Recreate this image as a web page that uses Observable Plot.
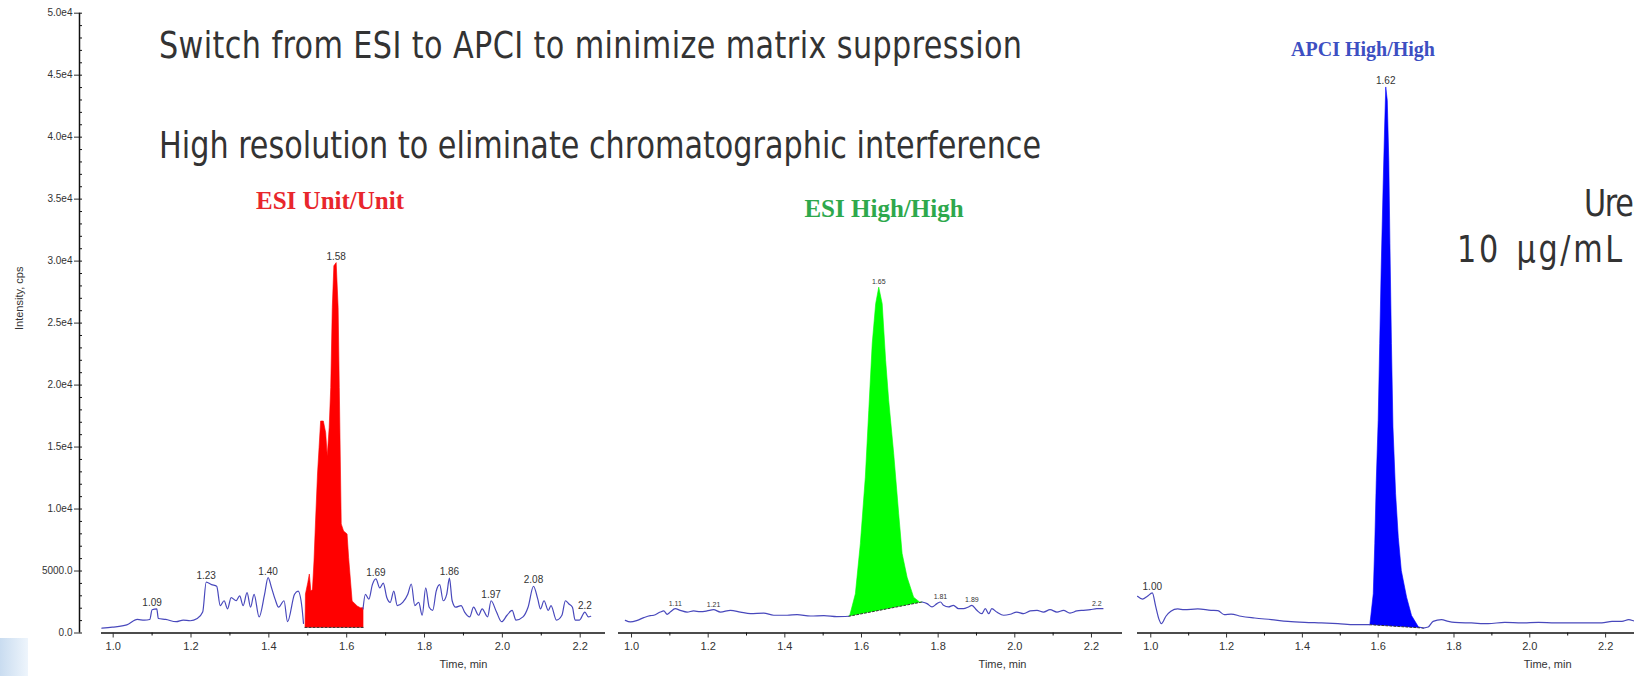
<!DOCTYPE html>
<html><head><meta charset="utf-8">
<script src="https://cdn.jsdelivr.net/npm/d3@7"></script>
<script src="https://cdn.jsdelivr.net/npm/@observablehq/plot@0.6"></script>
<style>
body{margin:0;background:#fff;overflow:hidden}
#wrap{position:relative;width:1634px;height:676px;overflow:hidden;font-family:"Liberation Sans",Arial,sans-serif}
#wrap svg{position:absolute;left:0;top:0;background:transparent !important;max-width:none !important;overflow:visible}
.note{position:absolute;white-space:nowrap;color:#333;font-family:"Liberation Sans Narrow","Arial Narrow","DejaVu Sans Condensed",sans-serif;line-height:1;font-size:38px;transform:scaleX(0.885);transform-origin:0 0}
.ttl{position:absolute;white-space:nowrap;font-family:"Liberation Serif","Times New Roman",serif;font-weight:bold;transform:translateX(-50%)}
#decor{position:absolute;left:0;top:638px;width:28px;height:38px;background:linear-gradient(to right,#c9dcf0,#eef5fc)}
</style></head><body><div id="wrap"><div id="decor"></div></div>
<script>
// ---------- data ----------
const yTickValues = [0, 5000, 10000, 15000, 20000, 25000, 30000, 35000, 40000, 45000, 50000];
const yTickLabels = ["0.0", "5000.0", "1.0e4", "1.5e4", "2.0e4", "2.5e4", "3.0e4", "3.5e4", "4.0e4", "4.5e4", "5.0e4"];
const yMinorTicks = [1000,2000,3000,4000,6000,7000,8000,9000,11000,12000,13000,14000,16000,17000,18000,19000,21000,22000,23000,24000,26000,27000,28000,29000,31000,32000,33000,34000,36000,37000,38000,39000,41000,42000,43000,44000,46000,47000,48000,49000];
const xTickValues = [1.0, 1.2, 1.4, 1.6, 1.8, 2.0, 2.2];
const xTickLabels = ["1.0", "1.2", "1.4", "1.6", "1.8", "2.0", "2.2"];
const xMinorTicks = [1.1, 1.3, 1.5, 1.7, 1.9, 2.1];

// Panel 1: ESI Unit/Unit
const esiUnitTime = [0.971,0.998,1.035,1.062,1.080,1.094,1.100,1.112,1.116,1.135,1.162,1.180,1.198,1.216,1.230,1.239,1.253,1.266,1.275,1.285,1.294,1.303,1.316,1.325,1.334,1.344,1.353,1.362,1.375,1.389,1.398,1.407,1.416,1.425,1.439,1.448,1.466,1.475,1.485,1.489,
  1.56,
  1.642,1.648,1.657,1.666,1.675,1.685,1.694,1.703,1.712,1.721,1.730,1.744,1.757,1.766,1.775,1.785,1.794,1.803,1.812,1.821,1.830,1.839,1.848,1.857,1.864,1.871,1.880,1.894,1.903,1.916,1.926,1.939,1.948,1.962,1.971,1.985,1.998,2.012,2.025,2.035,2.053,2.066,2.080,2.091,2.098,2.107,2.118,2.125,2.139,2.153,2.162,2.171,2.180,2.187,2.198,2.212,2.221,2.227];
const esiUnitIntensity = [390,468,650,1092,1040,1092,1872,1950,1170,1092,910,1040,988,1170,1690,4108,3900,3770,2210,2600,1950,2860,2600,2990,2210,3250,2080,3120,1300,3120,4472,3640,2730,2080,2600,910,3120,3380,2080,780,
  null,
  1950,3120,2730,3900,4368,3640,4030,2860,2470,3380,2210,2470,3120,3952,2210,2470,1430,3640,2080,1820,3380,3900,2600,3120,4420,2600,2080,2210,1690,1300,2080,1430,1950,1300,2600,1690,910,1430,1820,1040,1300,2080,3770,2730,1950,2600,1820,2210,1040,1430,2600,2340,2080,1040,1040,1690,1300,1350];
const esiUnitPeakTime = [1.493,1.494,1.500,1.504,1.508,1.512,1.516,1.520,1.525,1.529,1.533,1.540,1.546,1.550,1.555,1.559,1.563,1.567,1.573,1.578,1.581,1.586,1.592,1.601,1.605,1.614,1.627,1.635,1.642,1.642];
const esiUnitPeakIntensity = [450,3150,4060,4760,3390,3500,5810,9040,12830,14950,17100,17100,16160,14280,16570,19800,26250,29620,29880,26250,19800,8800,8230,7990,6080,2580,2180,2040,2040,450];
const esiUnitLabels = ["1.09","1.23","1.40","1.58","1.69","1.86","1.97","2.08","2.2"];
const esiUnitLabelTime = [1.10,1.239,1.398,1.573,1.675,1.864,1.971,2.080,2.212];
const esiUnitLabelIntensity = [1950,4108,4472,29880,4368,4420,2600,3770,1690];

// Panel 2: ESI High/High
const esiHighTime = [0.984,0.997,1.015,1.032,1.049,1.058,1.075,1.084,1.093,1.101,1.114,1.127,1.145,1.162,1.179,1.197,1.214,1.232,1.258,1.284,1.310,1.345,1.371,1.406,1.432,1.467,1.502,1.536,1.567,
  1.66,
  1.758,1.771,1.784,1.797,1.806,1.814,1.827,1.840,1.853,1.866,1.879,1.888,1.901,1.914,1.923,1.932,1.940,1.953,1.971,1.988,2.005,2.023,2.040,2.058,2.075,2.092,2.110,2.127,2.144,2.162,2.179,2.197,2.214,2.230];
const esiHighIntensity = [1020,890,1020,1240,1400,1430,1690,1780,1510,1690,1960,1830,1690,1780,1720,1780,1880,1690,1830,1690,1560,1610,1430,1430,1480,1370,1400,1320,1350,
  null,
  2500,2370,2100,2370,2500,2230,2100,2230,1960,1960,2100,2230,1830,1560,1960,1560,1960,1690,1430,1510,1690,1560,1780,1830,1690,1880,1690,1830,1610,1780,1830,1880,1960,1960];
const esiHighPeakTime = [1.567,1.570,1.584,1.597,1.610,1.619,1.628,1.637,1.645,1.654,1.663,1.671,1.684,1.697,1.706,1.719,1.736,1.752,1.758];
const esiHighPeakIntensity = [1350,1500,3160,7200,12570,17950,23360,26570,27900,26570,22000,18760,14480,9640,6410,4500,2890,2490,2500];
const esiHighLabels = ["1.11","1.21","1.65","1.81","1.89","2.2"];
const esiHighLabelTime = [1.114,1.214,1.645,1.806,1.888,2.214];
const esiHighLabelIntensity = [1960,1880,27900,2500,2230,1960];

// Panel 3: APCI High/High
const apciTime = [0.965,0.978,0.991,1.004,1.013,1.022,1.028,1.040,1.053,1.071,1.088,1.124,1.159,1.177,1.194,1.212,1.238,1.274,1.318,1.362,1.406,1.450,1.494,1.538,1.578,
  1.65,
  1.719,1.732,1.745,1.767,1.785,1.802,1.846,1.890,1.934,1.979,2.023,2.067,2.111,2.155,2.190,2.217,2.243,2.261,2.279,2.300];
const apciIntensity = [2960,2740,2960,3230,2150,1080,750,1350,1750,1940,1880,1940,1830,1800,1480,1530,1350,1210,1080,940,860,810,750,670,670,
  null,
  400,480,940,1080,940,860,810,750,860,810,860,810,810,810,810,940,940,1080,940,900];
const apciPeakTime = [1.578,1.587,1.591,1.595,1.600,1.604,1.608,1.613,1.617,1.620,1.624,1.628,1.631,1.635,1.639,1.646,1.653,1.661,1.675,1.688,1.706,1.719];
const apciPeakIntensity = [670,3160,7200,12300,17150,23340,29520,35980,40820,44050,42970,38130,31410,23340,16610,11230,7730,5040,2890,1410,500,400];
const apciLabels = ["1.00","1.62"];
const apciLabelTime = [1.004,1.620];
const apciLabelIntensity = [3230,44050];

// ---------- layout ----------
const W = 1634, H = 676, MT = 12.7, MB = 43.5;
const FONT = '"Liberation Sans", Arial, sans-serif';
const traceColor = "#4848bc";
const axisColor = "#111";
const textColor = "#333";
const wrap = document.getElementById("wrap");
const svgStyle = {background: "transparent", maxWidth: "none", fontFamily: FONT, overflow: "visible"};

// shared y axis
const yAxisPlot = Plot.plot({
  width: W, height: H, marginTop: MT, marginBottom: MB, marginLeft: 79, marginRight: W - 82,
  style: svgStyle,
  x: {domain: [0, 1], axis: null},
  y: {domain: [0, 50000], axis: null},
  marks: [
    Plot.ruleY(yMinorTicks, {stroke: axisColor, strokeWidth: 1}),
    Plot.ruleY(yTickValues, {stroke: axisColor, strokeWidth: 1}),
    Plot.axisY({ticks: yTickValues, anchor: "left", tickSize: 5, tickPadding: 2,
      tickFormat: v => yTickLabels[yTickValues.indexOf(v)], fontSize: 10, color: textColor, label: null}),
    Plot.ruleX([0], {stroke: axisColor, strokeWidth: 1.5}),
    Plot.text(["Intensity, cps"], {y: 27000, frameAnchor: "left", dx: -60, rotate: -90, textAnchor: "middle", fontSize: 11, fill: textColor})
  ]
});
wrap.appendChild(yAxisPlot);

function panel(o) {
  const idx = a => d3.range(a.length);
  const fillIdx = idx(o.peakT);
  const ends = [0, o.peakT.length - 1];
  return Plot.plot({
    width: o.width, height: H, marginTop: MT, marginBottom: MB, marginLeft: o.ml, marginRight: o.mr,
    style: svgStyle,
    x: {domain: o.domain, axis: null},
    y: {domain: [0, 50000], axis: null},
    marks: [
      Plot.line(fillIdx, {x: i => o.peakT[i], y: i => o.peakV[i], fill: o.fill, stroke: o.fill, strokeWidth: 0.6, curve: "linear"}),
      Plot.line(ends, {x: i => o.peakT[i], y: i => o.peakV[i], stroke: "#333", strokeWidth: 1, strokeDasharray: "2,2"}),
      Plot.line(idx(o.t), {x: i => o.t[i], y: i => o.v[i], stroke: traceColor, strokeWidth: 1.2, curve: "monotone-x"}),
      Plot.ruleY([0], {stroke: axisColor, strokeWidth: 1.5}),
      Plot.axisX({ticks: xTickValues, tickSize: 5, tickPadding: 4, fontSize: 11, color: textColor,
        tickFormat: v => xTickLabels[xTickValues.indexOf(v)], label: null}),
      Plot.axisX({ticks: xMinorTicks, tickSize: 3, tickFormat: () => "", color: axisColor, label: null}),
      Plot.text(idx(o.labels), {x: i => o.labelT[i], y: i => o.labelV[i], text: i => o.labels[i],
        lineAnchor: "bottom", dy: -3, fontSize: o.labelSize, fill: textColor}),
      Plot.text(["Time, min"], {x: o.timeAt, frameAnchor: "bottom", dy: 35, fontSize: 11, fill: textColor})
    ]
  });
}

wrap.appendChild(panel({width: W, ml: 101, mr: W - 605, domain: [0.97, 2.265],
  t: esiUnitTime, v: esiUnitIntensity, peakT: esiUnitPeakTime, peakV: esiUnitPeakIntensity, fill: "#ff0000",
  labels: esiUnitLabels, labelT: esiUnitLabelTime, labelV: esiUnitLabelIntensity, labelSize: 10, timeAt: 1.90}));
wrap.appendChild(panel({width: W, ml: 618, mr: W - 1122, domain: [0.966, 2.281],
  t: esiHighTime, v: esiHighIntensity, peakT: esiHighPeakTime, peakV: esiHighPeakIntensity, fill: "#00ff00",
  labels: esiHighLabels, labelT: esiHighLabelTime, labelV: esiHighLabelIntensity, labelSize: 7, timeAt: 1.968}));
wrap.appendChild(panel({width: 1700, ml: 1137, mr: 57, domain: [0.965, 2.3],
  t: apciTime, v: apciIntensity, peakT: apciPeakTime, peakV: apciPeakIntensity, fill: "#0000ff",
  labels: apciLabels, labelT: apciLabelTime, labelV: apciLabelIntensity, labelSize: 10, timeAt: 2.047}));

// ---------- text annotations ----------
function addDiv(cls, text, css) {
  const d = document.createElement("div");
  d.className = cls; d.textContent = text;
  Object.assign(d.style, css);
  wrap.appendChild(d);
}
addDiv("note", "Switch from ESI to APCI to minimize matrix suppression", {left: "159px", top: "26px", letterSpacing: "0.45px"});
addDiv("note", "High resolution to eliminate chromatographic interference", {left: "159px", top: "126px"});
addDiv("note", "Urea", {left: "1584px", top: "184px", letterSpacing: "-1.5px"});
addDiv("note", "10 \u03bcg/mL", {left: "1457px", top: "230px", letterSpacing: "3px", wordSpacing: "4px"});
addDiv("ttl", "ESI Unit/Unit", {left: "330px", top: "188px", fontSize: "25px", lineHeight: "25px", color: "#e8262c"});
addDiv("ttl", "ESI High/High", {left: "884px", top: "196px", fontSize: "25px", lineHeight: "25px", color: "#2ea84c"});
addDiv("ttl", "APCI High/High", {left: "1363px", top: "39px", fontSize: "20px", lineHeight: "20px", color: "#3d4fc2"});
</script></body></html>
